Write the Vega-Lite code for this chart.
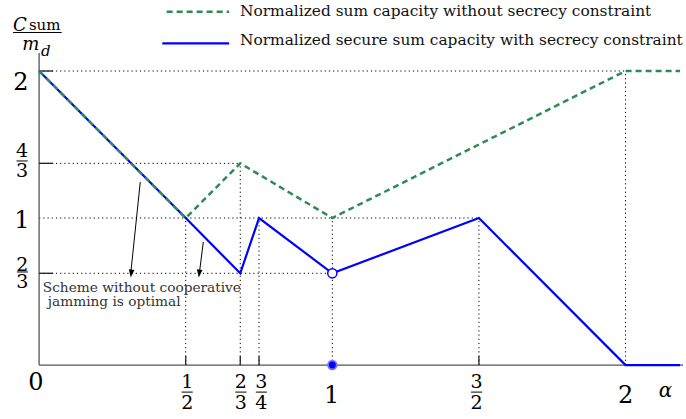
{
  "$schema": "https://vega.github.io/schema/vega-lite/v6.json",
  "width": 686,
  "height": 419,
  "padding": 0,
  "autosize": {"type": "fit", "contains": "padding"},
  "config": {"view": {"stroke": null}},
  "datasets": {
    "grid": [
      {"x": 0, "x2": 2, "y": 2, "y2": 2},
      {"x": 0, "x2": 0.686, "y": 1.372, "y2": 1.372},
      {"x": 0, "x2": 1.5, "y": 1, "y2": 1},
      {"x": 0, "x2": 1, "y": 0.624, "y2": 0.624},
      {"x": 0.5, "x2": 0.5, "y": 0, "y2": 1},
      {"x": 0.686, "x2": 0.686, "y": 0, "y2": 1.372},
      {"x": 0.75, "x2": 0.75, "y": 0, "y2": 1},
      {"x": 1, "x2": 1, "y": 0, "y2": 1},
      {"x": 1.5, "x2": 1.5, "y": 0, "y2": 1},
      {"x": 2, "x2": 2, "y": 0, "y2": 2}
    ],
    "axes": [
      {"x": 0, "x2": 2.196, "y": 0, "y2": 0},
      {"x": 0, "x2": 0, "y": 0, "y2": 2.122}
    ],
    "ticks": [
      {"x": 0, "x2": 0.048, "y": 2, "y2": 2},
      {"x": 0, "x2": 0.048, "y": 1.372, "y2": 1.372},
      {"x": 0, "x2": 0.048, "y": 0.624, "y2": 0.624},
      {"x": 0.5, "x2": 0.5, "y": 0, "y2": 0.061},
      {"x": 0.686, "x2": 0.686, "y": 0, "y2": 0.061},
      {"x": 0.75, "x2": 0.75, "y": 0, "y2": 0.061},
      {"x": 1.5, "x2": 1.5, "y": 0, "y2": 0.061}
    ],
    "blue": [
      {"x": 0, "y": 2}, {"x": 0.5, "y": 1}, {"x": 0.686, "y": 0.624},
      {"x": 0.75, "y": 1}, {"x": 1, "y": 0.624}, {"x": 1.5, "y": 1},
      {"x": 2, "y": 0}, {"x": 2.186, "y": 0}
    ],
    "green": [
      {"x": 0, "y": 2}, {"x": 0.5, "y": 1}, {"x": 0.686, "y": 1.372},
      {"x": 1, "y": 1}, {"x": 2, "y": 2}, {"x": 2.186, "y": 2}
    ],
    "legGreen": [{"x": 0.435, "x2": 0.648, "y": 2.403}],
    "legBlue": [{"x": 0.42, "x2": 0.648, "y": 2.188}],
    "openPt": [{"x": 1, "y": 0.624}],
    "filledPt": [{"x": 1, "y": 0}],
    "arrows": [
      {"x": 0.345, "x2": 0.313, "y": 1.245, "y2": 0.633},
      {"x": 0.56, "x2": 0.547, "y": 0.837, "y2": 0.633}
    ],
    "heads": [{"x": 0.314, "y": 0.622}, {"x": 0.546, "y": 0.622}],
    "bigNums": [
      {"x": -0.011, "y": -0.168, "t": "0"},
      {"x": -0.062, "y": 1.872, "t": "2"},
      {"x": -0.059, "y": 0.934, "t": "1"},
      {"x": 0.998, "y": -0.257, "t": "1"},
      {"x": 2.0, "y": -0.257, "t": "2"}
    ],
    "fracNums": [
      {"x": 0.505, "y": -0.159, "t": "1"}, {"x": 0.505, "y": -0.302, "t": "2"},
      {"x": 0.688, "y": -0.159, "t": "2"}, {"x": 0.688, "y": -0.302, "t": "3"},
      {"x": 0.758, "y": -0.159, "t": "3"}, {"x": 0.758, "y": -0.302, "t": "4"},
      {"x": 1.492, "y": -0.159, "t": "3"}, {"x": 1.492, "y": -0.302, "t": "2"},
      {"x": -0.058, "y": 1.412, "t": "4"}, {"x": -0.058, "y": 1.276, "t": "3"},
      {"x": -0.057, "y": 0.642, "t": "2"}, {"x": -0.057, "y": 0.523, "t": "3"}
    ],
    "fracBars": [
      {"x": 0.486, "x2": 0.524, "y": -0.184},
      {"x": 0.669, "x2": 0.707, "y": -0.184},
      {"x": 0.739, "x2": 0.777, "y": -0.184},
      {"x": 1.473, "x2": 1.511, "y": -0.184},
      {"x": -0.077, "x2": -0.039, "y": 1.388},
      {"x": -0.076, "x2": -0.038, "y": 0.633},
      {"x": -0.089, "x2": 0.077, "y": 2.262}
    ],
    "alpha": [{"x": 2.136, "y": -0.216, "t": "α"}],
    "titleIt": [
      {"x": -0.0655, "y": 2.272, "t": "C"},
      {"x": -0.028, "y": 2.143, "t": "m"}
    ],
    "titleSub": [{"x": 0.019, "y": 2.276, "t": "sum"}],
    "titleD": [{"x": 0.023, "y": 2.102, "t": "d"}],
    "legText": [
      {"x": 0.685, "y": 2.376, "t": "Normalized sum capacity without secrecy constraint"},
      {"x": 0.685, "y": 2.177, "t": "Normalized secure sum capacity with secrecy constraint"}
    ],
    "annot": [
      {"x": 0.0126, "y": 0.497, "t": "Scheme without cooperative"},
      {"x": 0.0296, "y": 0.405, "t": "jamming is optimal"}
    ]
  },
  "encoding": {
    "x": {"field": "x", "type": "quantitative", "scale": {"domain": [-0.1334, 2.196], "nice": false, "zero": false}, "axis": null},
    "y": {"field": "y", "type": "quantitative", "scale": {"domain": [-0.367, 2.483], "nice": false, "zero": false}, "axis": null}
  },
  "layer": [
    {"data": {"name": "grid"}, "mark": {"type": "rule", "color": "#000", "strokeWidth": 1, "strokeDash": [1.2, 3]},
     "encoding": {"x2": {"field": "x2"}, "y2": {"field": "y2"}}},
    {"data": {"name": "axes"}, "mark": {"type": "rule", "color": "#555", "strokeWidth": 1.3},
     "encoding": {"x2": {"field": "x2"}, "y2": {"field": "y2"}}},
    {"data": {"name": "ticks"}, "mark": {"type": "rule", "color": "#222", "strokeWidth": 1.3},
     "encoding": {"x2": {"field": "x2"}, "y2": {"field": "y2"}}},
    {"data": {"name": "blue"}, "mark": {"type": "line", "color": "#0000ff", "strokeWidth": 2.2},
     "encoding": {"order": {"field": "x", "type": "quantitative"}}},
    {"data": {"name": "green"}, "mark": {"type": "line", "color": "#2e8b57", "strokeWidth": 2.5, "strokeDash": [6, 4]},
     "encoding": {"order": {"field": "x", "type": "quantitative"}}},
    {"data": {"name": "legGreen"}, "mark": {"type": "rule", "color": "#2e8b57", "strokeWidth": 2.5, "strokeDash": [6, 4]},
     "encoding": {"x2": {"field": "x2"}}},
    {"data": {"name": "legBlue"}, "mark": {"type": "rule", "color": "#0000ff", "strokeWidth": 2.2},
     "encoding": {"x2": {"field": "x2"}}},
    {"data": {"name": "openPt"}, "mark": {"type": "point", "shape": "circle", "filled": true, "fill": "white", "stroke": "#0000ff", "strokeWidth": 1.5, "size": 85, "opacity": 1}},
    {"data": {"name": "filledPt"}, "mark": {"type": "point", "shape": "circle", "filled": true, "fill": "#0000ff", "stroke": "#7777ff", "strokeWidth": 1.8, "size": 75, "opacity": 1}},
    {"data": {"name": "arrows"}, "mark": {"type": "rule", "color": "#000", "strokeWidth": 1},
     "encoding": {"x2": {"field": "x2"}, "y2": {"field": "y2"}}},
    {"data": {"name": "heads"}, "mark": {"type": "point", "shape": "M-0.7,-1L0.7,-1L0,1Z", "filled": true, "color": "#000", "size": 64, "angle": 6.5, "opacity": 1}},
    {"data": {"name": "bigNums"}, "mark": {"type": "text", "font": "DejaVu Serif", "fontSize": 24, "align": "center", "baseline": "alphabetic", "color": "#000"},
     "encoding": {"text": {"field": "t"}}},
    {"data": {"name": "fracNums"}, "mark": {"type": "text", "font": "DejaVu Serif", "fontSize": 19, "align": "center", "baseline": "alphabetic", "color": "#000"},
     "encoding": {"text": {"field": "t"}}},
    {"data": {"name": "fracBars"}, "mark": {"type": "rule", "color": "#000", "strokeWidth": 1},
     "encoding": {"x2": {"field": "x2"}}},
    {"data": {"name": "alpha"}, "mark": {"type": "text", "font": "DejaVu Serif", "fontStyle": "italic", "fontSize": 20, "align": "center", "baseline": "alphabetic", "color": "#000"},
     "encoding": {"text": {"field": "t"}}},
    {"data": {"name": "titleIt"}, "mark": {"type": "text", "font": "DejaVu Serif", "fontStyle": "italic", "fontSize": 18, "align": "center", "baseline": "alphabetic", "color": "#000"},
     "encoding": {"text": {"field": "t"}}},
    {"data": {"name": "titleSub"}, "mark": {"type": "text", "font": "DejaVu Serif", "fontSize": 15, "align": "center", "baseline": "alphabetic", "color": "#000"},
     "encoding": {"text": {"field": "t"}}},
    {"data": {"name": "titleD"}, "mark": {"type": "text", "font": "DejaVu Serif", "fontStyle": "italic", "fontSize": 15, "align": "center", "baseline": "alphabetic", "color": "#000"},
     "encoding": {"text": {"field": "t"}}},
    {"data": {"name": "legText"}, "mark": {"type": "text", "font": "DejaVu Serif", "fontSize": 15.4, "align": "left", "baseline": "alphabetic", "color": "#111"},
     "encoding": {"text": {"field": "t"}}},
    {"data": {"name": "annot"}, "mark": {"type": "text", "font": "DejaVu Serif", "fontSize": 13.7, "align": "left", "baseline": "alphabetic", "color": "#333"},
     "encoding": {"text": {"field": "t"}}}
  ]
}
